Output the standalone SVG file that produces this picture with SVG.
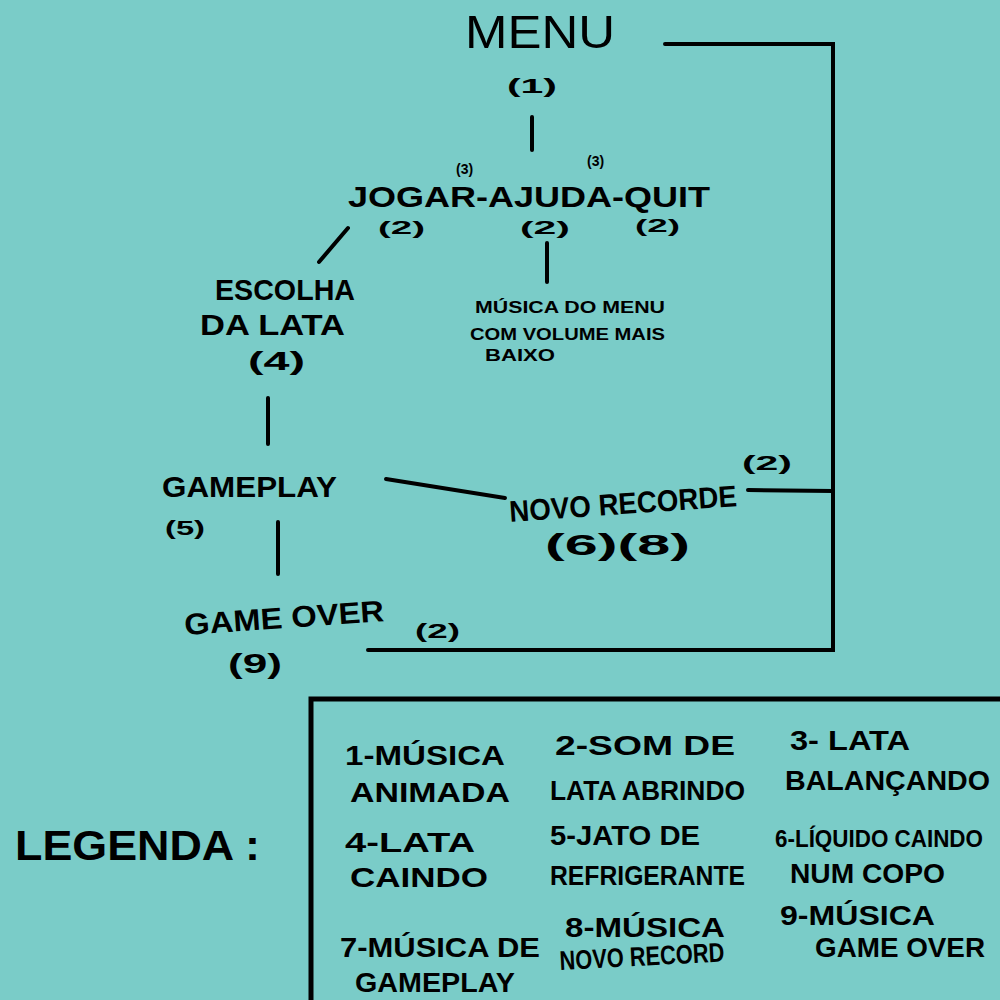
<svg xmlns="http://www.w3.org/2000/svg" width="1000" height="1000" viewBox="0 0 1000 1000">
<style>
text{font-family:"Liberation Sans","DejaVu Sans",sans-serif;fill:#000;font-weight:bold;}
.n{font-size:30px;}
.s{font-size:20px;}
.t{font-size:17px;}
.l{font-size:27px;}
.c{stroke:#000;stroke-width:4;stroke-linecap:round;fill:none;}
</style>
<rect width="1000" height="1000" fill="#7accc8"/>
<g id="connectors" class="c">
<line x1="532" y1="117" x2="532" y2="150"/>
<line x1="348" y1="228" x2="319" y2="262"/>
<line x1="547" y1="243" x2="547" y2="282"/>
<line x1="268" y1="398" x2="268" y2="444"/>
<line x1="386" y1="479" x2="505" y2="498"/>
<line x1="278" y1="522" x2="278" y2="574"/>
<polyline points="665,44 833,44 833,650 368,650"/>
<line x1="748" y1="490" x2="833" y2="491"/>
</g>
<g id="menu">
<text x="465" y="48" style="font-size:46px;font-weight:normal" textLength="150" lengthAdjust="spacingAndGlyphs">MENU</text>
<text x="507" y="93" class="s" textLength="50" lengthAdjust="spacingAndGlyphs">(1)</text>
</g>
<g id="jogar-ajuda-quit">
<text x="348" y="207" style="font-size:30px" textLength="362" lengthAdjust="spacingAndGlyphs">JOGAR-AJUDA-QUIT</text>
<text x="456" y="174" style="font-size:14px">(3)</text>
<text x="587" y="166" style="font-size:14px">(3)</text>
<text x="378" y="234" style="font-size:18px" textLength="47" lengthAdjust="spacingAndGlyphs">(2)</text>
<text x="520" y="234" style="font-size:18px" textLength="50" lengthAdjust="spacingAndGlyphs">(2)</text>
<text x="635" y="232" style="font-size:18px" textLength="45" lengthAdjust="spacingAndGlyphs">(2)</text>
</g>
<g id="musica-menu">
<text x="475" y="313" class="t" textLength="190" lengthAdjust="spacingAndGlyphs">MÚSICA DO MENU</text>
<text x="470" y="340" class="t" textLength="195" lengthAdjust="spacingAndGlyphs">COM VOLUME MAIS</text>
<text x="485" y="361" class="t" textLength="70" lengthAdjust="spacingAndGlyphs">BAIXO</text>
</g>
<g id="escolha">
<text x="215" y="300" class="n" textLength="140" lengthAdjust="spacingAndGlyphs">ESCOLHA</text>
<text x="200" y="335" class="n" textLength="145" lengthAdjust="spacingAndGlyphs">DA LATA</text>
<text x="248" y="370" style="font-size:26px" textLength="57" lengthAdjust="spacingAndGlyphs">(4)</text>
</g>
<g id="gameplay">
<text x="162" y="497" class="n" textLength="175" lengthAdjust="spacingAndGlyphs">GAMEPLAY</text>
<text x="165" y="535" class="s" textLength="40" lengthAdjust="spacingAndGlyphs">(5)</text>
</g>
<g id="novo-recorde">
<text x="510" y="522" class="n" transform="rotate(-4 510 522)" textLength="228" lengthAdjust="spacingAndGlyphs">NOVO RECORDE</text>
<text x="742" y="470" class="s" textLength="50" lengthAdjust="spacingAndGlyphs">(2)</text>
<text x="545" y="555" style="font-size:30px" textLength="145" lengthAdjust="spacingAndGlyphs">(6)(8)</text>
</g>
<g id="game-over">
<text x="185" y="635" class="n" transform="rotate(-4 185 635)" textLength="200" lengthAdjust="spacingAndGlyphs">GAME OVER</text>
<text x="228" y="673" style="font-size:28px" textLength="54" lengthAdjust="spacingAndGlyphs">(9)</text>
<text x="415" y="638" class="s" textLength="45" lengthAdjust="spacingAndGlyphs">(2)</text>
</g>
<g id="legenda">
<text x="15" y="860" style="font-size:42px" textLength="245" lengthAdjust="spacingAndGlyphs">LEGENDA :</text>
<rect x="311" y="699" width="720" height="340" fill="none" stroke="#000" stroke-width="5"/>
<text x="345" y="765" class="l" textLength="160" lengthAdjust="spacingAndGlyphs">1-MÚSICA</text>
<text x="350" y="802" class="l" textLength="160" lengthAdjust="spacingAndGlyphs">ANIMADA</text>
<text x="555" y="755" class="l" textLength="180" lengthAdjust="spacingAndGlyphs">2-SOM DE</text>
<text x="550" y="800" class="l" textLength="195" lengthAdjust="spacingAndGlyphs">LATA ABRINDO</text>
<text x="790" y="750" class="l" textLength="120" lengthAdjust="spacingAndGlyphs">3- LATA</text>
<text x="785" y="790" class="l" textLength="205" lengthAdjust="spacingAndGlyphs">BALANÇANDO</text>
<text x="775" y="847" style="font-size:23px" textLength="208" lengthAdjust="spacingAndGlyphs">6-LÍQUIDO CAINDO</text>
<text x="790" y="883" class="l" textLength="155" lengthAdjust="spacingAndGlyphs">NUM COPO</text>
<text x="345" y="852" class="l" textLength="130" lengthAdjust="spacingAndGlyphs">4-LATA</text>
<text x="350" y="887" class="l" textLength="138" lengthAdjust="spacingAndGlyphs">CAINDO</text>
<text x="550" y="845" class="l" textLength="150" lengthAdjust="spacingAndGlyphs">5-JATO DE</text>
<text x="550" y="885" class="l" textLength="195" lengthAdjust="spacingAndGlyphs">REFRIGERANTE</text>
<text x="340" y="957" class="l" textLength="200" lengthAdjust="spacingAndGlyphs">7-MÚSICA DE</text>
<text x="355" y="992" class="l" textLength="160" lengthAdjust="spacingAndGlyphs">GAMEPLAY</text>
<text x="565" y="937" class="l" textLength="160" lengthAdjust="spacingAndGlyphs">8-MÚSICA</text>
<text x="560" y="970" class="l" transform="rotate(-3 560 970)" textLength="165" lengthAdjust="spacingAndGlyphs">NOVO RECORD</text>
<text x="780" y="925" class="l" textLength="155" lengthAdjust="spacingAndGlyphs">9-MÚSICA</text>
<text x="815" y="957" class="l" textLength="170" lengthAdjust="spacingAndGlyphs">GAME OVER</text>
</g>
</svg>
